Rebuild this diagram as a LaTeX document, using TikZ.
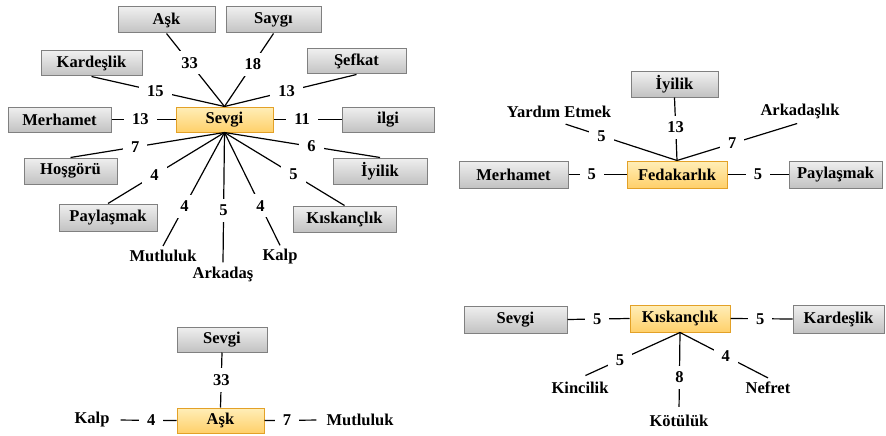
\documentclass[tikz,border=0pt]{standalone}
\usepackage{fontspec}
\setmainfont{Liberation Serif}
\definecolor{gtop}{HTML}{EFEFEF}
\definecolor{gbot}{HTML}{C2C2C2}
\definecolor{gdraw}{HTML}{808080}
\definecolor{ytop}{HTML}{FFEEB8}
\definecolor{ybot}{HTML}{FFD06A}
\definecolor{ydraw}{HTML}{E3A127}
\tikzset{
  fnt/.style={font=\bfseries\fontsize{16.5}{19}\selectfont},
  gbox/.style={fnt, draw=gdraw, line width=1pt, top color=gtop, bottom color=gbot, minimum height=25pt, inner sep=0pt},
  ybox/.style={fnt, draw=ydraw, line width=1pt, top color=ytop, bottom color=ybot, minimum height=25pt, inner sep=0pt},
  txt/.style={fnt, inner sep=4pt},
  lbl/.style={fnt, fill=white, inner xsep=8pt, inner ysep=6pt},
  conn/.style={draw=black, line width=1.2pt},
}
\begin{document}
\begin{tikzpicture}[x=1pt,y=-1pt]
\useasboundingbox (0,0) rectangle (886,436);
% ---------- Sevgi star ----------
\node[ybox, minimum width=97pt] (sev) at (224.5,119.5) {Sevgi};
\node[gbox, minimum width=97pt, minimum height=26pt] (ask1) at (166.5,20) {Aşk};
\node[gbox, minimum width=95pt, minimum height=26pt] (saygi) at (273.5,20) {Saygı};
\node[gbox, minimum width=101pt] (kard1) at (91.5,63.5) {Kardeşlik};
\node[gbox, minimum width=99pt] (sefkat) at (356.5,61.5) {Şefkat};
\node[gbox, minimum width=103pt] (merh1) at (59.5,119.5) {Merhamet};
\node[gbox, minimum width=92pt] (ilgi) at (388,119.5) {ilgi};
\node[gbox, minimum width=93pt, minimum height=26pt] (hos) at (70.5,171) {Hoşgörü};
\node[gbox, minimum width=94pt, minimum height=26pt] (iyi1) at (380,171) {İyilik};
\node[gbox, minimum width=98pt, minimum height=27pt] (pay1) at (108,217.5) {Paylaşmak};
\node[gbox, minimum width=103pt, minimum height=26pt] (kis1) at (344.5,219) {Kıskançlık};
\node[txt] (mut1) at (163,256) {Mutluluk};
\node[txt] (ark) at (223,274) {Arkadaş};
\node[txt] (kalp1) at (280,257) {Kalp};

\draw[conn] (ask1.south) -- node[lbl,pos=.4] {33} (sev.north);
\draw[conn] (saygi.south) -- node[lbl,pos=.42] {18} (sev.north);
\draw[conn] (kard1.south) -- node[lbl,pos=.48] {15} (sev.north);
\draw[conn] (sefkat.south) -- node[lbl,pos=.53] {13} (sev.north);
\draw[conn] (merh1.east) -- node[lbl,pos=.45] {13} (sev.west);
\draw[conn] (sev.east) -- node[lbl,pos=.42] {11} (ilgi.west);
\draw[conn] (hos.north) -- node[lbl,pos=.42] {7} (sev.south);
\draw[conn] (sev.south) -- node[lbl,pos=.56] {6} (iyi1.north);
\draw[conn] (pay1.north) -- node[lbl,pos=.4] {4} (sev.south);
\draw[conn] (sev.south) -- node[lbl,pos=.575] {5} (kis1.north);
\draw[conn] (sev.south) -- node[lbl,pos=.65] {4} (mut1.north);
\draw[conn] (sev.south) -- node[lbl,pos=.6] {5} (ark.north);
\draw[conn] (sev.south) -- node[lbl,pos=.65] {4} (kalp1.north);

% ---------- Fedakarlik ----------
\node[ybox, minimum width=100pt, minimum height=27pt] (fed) at (677,174.5) {Fedakarlık};
\node[gbox, minimum width=109pt, minimum height=27pt] (merh2) at (513.5,174.5) {Merhamet};
\node[gbox, minimum width=93pt, minimum height=27pt] (pay2) at (835.5,174.5) {Paylaşmak};
\node[gbox, minimum width=87pt] (iyi2) at (674.5,84.5) {İyilik};
\node[txt] (yard) at (559,112) {Yardım Etmek};
\node[txt] (arkl) at (800,111) {Arkadaşlık};

\draw[conn] (iyi2.south) -- node[lbl,pos=.47] {13} (fed.north);
\draw[conn, shorten <=7pt] (yard.south) -- node[lbl,pos=.36] {5} (fed.north);
\draw[conn, shorten <=3pt] (arkl.south) -- node[lbl,pos=.55] {7} (fed.north);
\draw[conn] (merh2.east) -- node[lbl,pos=.4] {5} (fed.west);
\draw[conn] (fed.east) -- node[lbl,pos=.5] {5} (pay2.west);

% ---------- Kiskanclik ----------
\node[ybox, minimum width=100pt, minimum height=27pt] (kis2) at (680,318.5) {Kıskançlık};
\node[gbox, minimum width=103pt, minimum height=27pt] (sev2) at (515.5,319.5) {Sevgi};
\node[gbox, minimum width=91pt, minimum height=28pt] (kard2) at (838.5,319) {Kardeşlik};
\node[txt] (kin) at (580,388) {Kincilik};
\node[txt] (kot) at (679,421) {Kötülük};
\node[txt] (nef) at (768,388) {Nefret};

\draw[conn] (sev2.east) -- node[lbl,pos=.48] {5} (kis2.west);
\draw[conn] (kis2.east) -- node[lbl,pos=.48] {5} (kard2.west);
\draw[conn, shorten >=6pt] (kis2.south) -- node[lbl,pos=.6] {5} (kin.north);
\draw[conn, shorten >=4pt] (kis2.south) -- node[lbl,pos=.57] {8} (kot.north);
\draw[conn] (kis2.south) -- node[lbl,pos=.52] {4} (nef.north);

% ---------- Ask ----------
\node[gbox, minimum width=90pt] (sev3) at (222,339.5) {Sevgi};
\node[ybox, minimum width=87pt] (ask2) at (220.5,420.5) {Aşk};
\node[txt] (kalp2) at (92,420) {Kalp};
\node[txt] (mut2) at (360,420) {Mutluluk};

\draw[conn] (sev3.south) -- node[lbl,pos=.5] {33} (ask2.north);
\draw[conn, shorten <=7pt] (kalp2.east) -- node[lbl,pos=.6] {4} (ask2.west);
\draw[conn, shorten >=6pt] (ask2.east) -- node[lbl,pos=.39] {7} (mut2.west);
\end{tikzpicture}
\end{document}
